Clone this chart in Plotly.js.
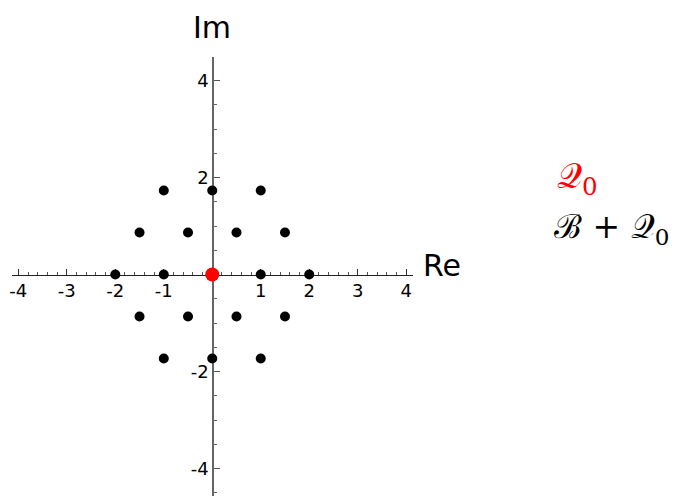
<!DOCTYPE html>
<html>
<head>
<meta charset="utf-8">
<script src="https://cdn.plot.ly/plotly-3.0.1.min.js"></script>
<style>
  html, body { margin: 0; padding: 0; background: #fff; }
  #graph { width: 675px; height: 496px; }
</style>
</head>
<body>
<div id="graph"></div>
<script>
// DATA
// origin point (Q0)
const q0X = [0];
const q0Y = [0];
// lattice points (B + Q0)
const bqX = [-1, 0, 1, -1.5, -0.5, 0.5, 1.5, -2, -1, 1, 2, -1.5, -0.5, 0.5, 1.5, -1, 0, 1];
const bqY = [1.732, 1.732, 1.732, 0.866, 0.866, 0.866, 0.866, 0, 0, 0, 0,
  -0.866, -0.866, -0.866, -0.866, -1.732, -1.732, -1.732];

const xTickVals = [-4, -3, -2, -1, 1, 2, 3, 4];
const xTickText = ["-4", "-3", "-2", "-1", "1", "2", "3", "4"];
const yTickVals = [-4, -2, 2, 4];
const yTickText = ["-4", "-2", "2", "4"];

const xRange = [-4.13, 4.14];
const yRange = [-4.565, 4.485];

// axes cross at the origin
const xAxisPos = (0 - yRange[0]) / (yRange[1] - yRange[0]);
const yAxisPos = (0 - xRange[0]) / (xRange[1] - xRange[0]);

const tickFont = { family: "DejaVu Sans", size: 18, color: "#000" };

const traces = [
  {
    x: bqX,
    y: bqY,
    type: "scatter",
    mode: "markers",
    marker: { color: "#000", size: 10 },
    name: "B+Q0",
    hoverinfo: "x+y",
  },
  {
    x: q0X,
    y: q0Y,
    type: "scatter",
    mode: "markers",
    marker: { color: "#ff0000", size: 14 },
    name: "Q0",
    hoverinfo: "x+y",
  },
];

const layout = {
  width: 675,
  height: 496,
  margin: { l: 12, r: 262, t: 57, b: 0 },
  paper_bgcolor: "#fff",
  plot_bgcolor: "#fff",
  showlegend: false,
  xaxis: {
    range: xRange,
    anchor: "free",
    position: xAxisPos,
    side: "bottom",
    showgrid: false,
    zeroline: false,
    showline: true,
    linecolor: "#222",
    linewidth: 1.3,
    layer: "below traces",
    tickmode: "array",
    tickvals: xTickVals,
    ticktext: xTickText,
    ticks: "inside",
    ticklen: 6,
    tickwidth: 1,
    tickcolor: "#333",
    tickfont: tickFont,
    minor: { dtick: 0.2, tick0: 0, ticks: "inside", ticklen: 3, tickcolor: "#555", showgrid: false },
  },
  yaxis: {
    range: yRange,
    anchor: "free",
    position: yAxisPos,
    side: "left",
    showgrid: false,
    zeroline: false,
    showline: true,
    linecolor: "#666",
    linewidth: 1.3,
    layer: "below traces",
    tickmode: "array",
    tickvals: yTickVals,
    ticktext: yTickText,
    ticks: "inside",
    ticklen: 6,
    tickwidth: 1,
    tickcolor: "#555",
    tickfont: tickFont,
    minor: { dtick: 0.5, tick0: 0, ticks: "inside", ticklen: 3, tickcolor: "#666", showgrid: false },
  },
  annotations: [
    // axis labels
    { text: "Im", xref: "paper", yref: "paper", x: yAxisPos, y: 1, yshift: 30,
      xanchor: "center", yanchor: "middle", showarrow: false,
      font: { family: "DejaVu Sans", size: 30, color: "#000" } },
    { text: "Re", xref: "paper", yref: "paper", x: 1, y: xAxisPos, xshift: 29, yshift: 9,
      xanchor: "center", yanchor: "middle", showarrow: false,
      font: { family: "DejaVu Sans", size: 30, color: "#000" } },
    // legend
    { text: "\u{1D4AC}<sub>0</sub>", xref: "paper", yref: "paper", x: 1, y: 1, xshift: 142, yshift: -121,
      xanchor: "left", yanchor: "middle", showarrow: false,
      font: { family: "DejaVu Serif", size: 35, color: "#ff0000" } },
    { text: "\u212C + \u{1D4AC}<sub>0</sub>", xref: "paper", yref: "paper", x: 1, y: 1, xshift: 139, yshift: -171,
      xanchor: "left", yanchor: "middle", showarrow: false,
      font: { family: "DejaVu Serif", size: 33, color: "#000" } },
  ],
};

Plotly.newPlot("graph", traces, layout, { displayModeBar: false, staticPlot: true });
</script>
</body>
</html>
